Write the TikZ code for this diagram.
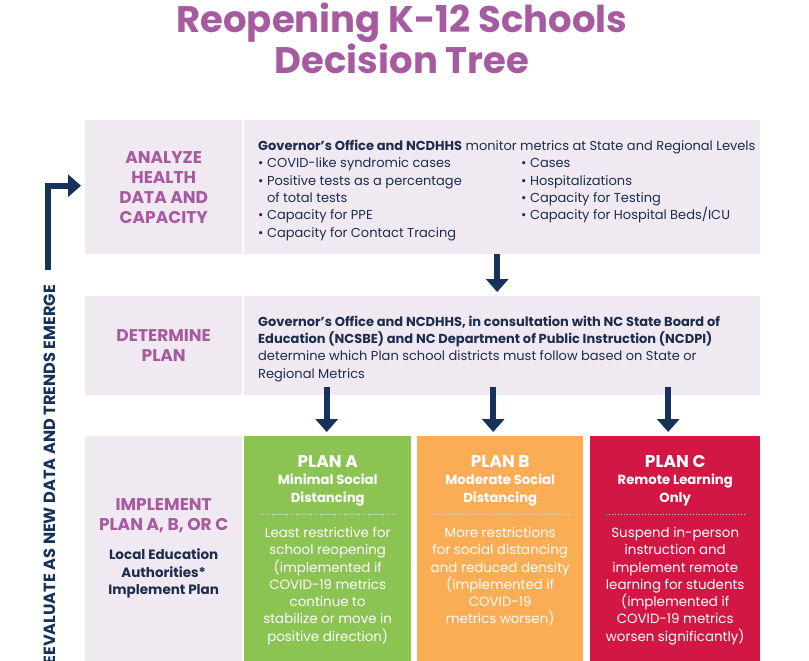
\documentclass[tikz,border=0pt]{standalone}
\usepackage{fontspec}
\setmainfont{Poppins}
\usepackage{xcolor}
\usetikzlibrary{arrows.meta, positioning, calc}

\definecolor{titlepurple}{HTML}{A65BA0}
\definecolor{lavender}{HTML}{F1E9F2}
\definecolor{navy}{HTML}{15335A}
\definecolor{bodynavy}{HTML}{1C2D4E}
\definecolor{planAgreen}{HTML}{8BC453}
\definecolor{planBorange}{HTML}{FBAD55}
\definecolor{planCred}{HTML}{D21745}

\newcommand{\authline}[1]{{\color{bodynavy}\fontsize{13.5}{17.5}\selectfont #1}}
\newcommand{\planname}[1]{{\fontsize{17}{17.5}\selectfont #1}}

\begin{document}
\begin{tikzpicture}[x=1pt, y=-1pt,
    labelbox/.style={fill=lavender, anchor=north west, minimum width=157pt, inner sep=0pt, align=center, text=titlepurple, font=\bfseries\fontsize{17}{20}\selectfont},
    rowbox/.style={fill=lavender, anchor=north west, minimum width=516pt, inner sep=0pt},
    planbox/.style={anchor=north west, minimum height=225pt, inner sep=0pt},
    bodytext/.style={inner sep=0pt, align=left, text=bodynavy, font=\fontsize{13}{17.3}\selectfont},
    planhead/.style={inner sep=0pt, align=center, text=white, font=\bfseries\fontsize{13.2}{17.5}\selectfont},
    plantext/.style={inner sep=0pt, align=center, text=white, font=\fontsize{13.4}{17.3}\selectfont},
    planrule/.style={white, line width=0.9pt, dash pattern=on 0.9pt off 2.1pt},
    flowarrow/.style={navy, line width=6pt, -{Triangle[width=22pt, length=13pt]}}
]
\useasboundingbox (0,0) rectangle (809,661);

% Title
\node[align=center, text=titlepurple, font=\bfseries\fontsize{37}{39}\selectfont] (title) at (402,38) {Reopening K-12 Schools\\Decision Tree};

% Analyze row
\node[labelbox, minimum height=134pt] (analyze) at (85,120) {ANALYZE\\HEALTH\\DATA AND\\CAPACITY};
\node[rowbox, minimum height=134pt] (analyzebox) at (244,120) {};
\node[bodytext, anchor=west] (analyzetext) at ([xshift=14pt, yshift=-4pt]analyzebox.west) {\textbf{Governor’s Office and NCDHHS} monitor metrics at State and Regional Levels\\
\begin{tabular}[t]{@{}p{263pt}@{}l@{}}
\textbullet\ COVID-like syndromic cases & \textbullet\ Cases\\
\textbullet\ Positive tests as a percentage & \textbullet\ Hospitalizations\\
\phantom{\textbullet\ }of total tests & \textbullet\ Capacity for Testing\\
\textbullet\ Capacity for PPE & \textbullet\ Capacity for Hospital Beds/ICU\\
\textbullet\ Capacity for Contact Tracing &
\end{tabular}};

% Determine row
\node[labelbox, minimum height=99pt] (determine) at (85,296) {DETERMINE\\PLAN};
\node[rowbox, minimum height=99pt] (determinebox) at (244,296) {};
\node[bodytext, anchor=west] (determinetext) at ([xshift=14pt, yshift=-3pt]determinebox.west) {\textbf{Governor’s Office and NCDHHS, in consultation with NC State Board of}\\
\textbf{Education (NCSBE) and NC Department of Public Instruction (NCDPI)}\\
determine which Plan school districts must follow based on State or\\
Regional Metrics};

% Implement row
\node[labelbox, minimum height=225pt] (implement) at (85,436) {IMPLEMENT\\PLAN A, B, OR C\\[9pt]
\authline{Local Education}\\[-2.5pt]\authline{Authorities*}\\[-2.5pt]\authline{Implement Plan}};

\node[planbox, fill=planAgreen, minimum width=167pt] (planA) at (244,436) {};
\node[planbox, fill=planBorange, minimum width=166pt] (planB) at (417,436) {};
\node[planbox, fill=planCred, minimum width=170pt] (planC) at (590,436) {};

\node[planhead, anchor=north] (planAhead) at ([yshift=-19pt]planA.north) {\planname{PLAN A}\\Minimal Social\\Distancing};
\node[planhead, anchor=north] (planBhead) at ([yshift=-19pt]planB.north) {\planname{PLAN B}\\Moderate Social\\Distancing};
\node[planhead, anchor=north] (planChead) at ([yshift=-19pt]planC.north) {\planname{PLAN C}\\Remote Learning\\Only};

\draw[planrule] ([xshift=16pt, yshift=-78pt]planA.north west) -- ([xshift=-14pt, yshift=-78pt]planA.north east);
\draw[planrule] ([xshift=16pt, yshift=-78pt]planB.north west) -- ([xshift=-14pt, yshift=-78pt]planB.north east);
\draw[planrule] ([xshift=16pt, yshift=-78pt]planC.north west) -- ([xshift=-14pt, yshift=-78pt]planC.north east);

\node[plantext, anchor=north] (planAtext) at ([yshift=-91pt]planA.north) {Least restrictive for\\school reopening\\(implemented if\\COVID-19 metrics\\continue to\\stabilize or move in\\positive direction)};
\node[plantext, anchor=north] (planBtext) at ([yshift=-91pt]planB.north) {More restrictions\\for social distancing\\and reduced density\\(implemented if\\COVID-19\\metrics worsen)};
\node[plantext, anchor=north] (planCtext) at ([yshift=-91pt]planC.north) {Suspend in-person\\instruction and\\implement remote\\learning for students\\(implemented if\\COVID-19 metrics\\worsen significantly)};

% Arrows
\draw[flowarrow, shorten >=4pt] ([xshift=-5pt]analyzebox.south) -- ([xshift=-5pt]determinebox.north);
\draw[flowarrow, shorten <=-8pt, shorten >=4pt] ([xshift=-1pt]planA.north |- determinebox.south) -- ([xshift=-1pt]planA.north);
\draw[flowarrow, shorten <=-8pt, shorten >=4pt] ([xshift=-7pt]planB.north |- determinebox.south) -- ([xshift=-7pt]planB.north);
\draw[flowarrow, shorten <=-8pt, shorten >=4pt] ([xshift=-7pt]planC.north |- determinebox.south) -- ([xshift=-7pt]planC.north);

% Feedback loop
\coordinate (loopstart) at (48,270);
\draw[flowarrow, shorten >=4pt] (loopstart) |- ([yshift=1.5pt]analyze.west);
\node[rotate=90, anchor=east, inner sep=0pt, text=navy, font=\bfseries\fontsize{16.2}{18}\selectfont] (reevaluate) at (50,285) {REEVALUATE AS NEW DATA AND TRENDS EMERGE};

\end{tikzpicture}
\end{document}
